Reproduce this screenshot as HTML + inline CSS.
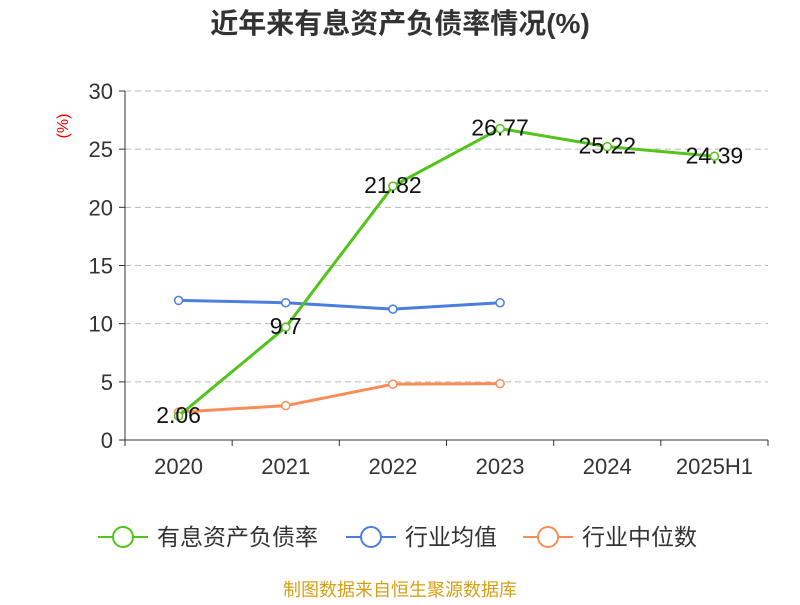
<!DOCTYPE html>
<html><head><meta charset="utf-8"><style>
body{margin:0;background:#fff;}
svg text{font-family:"Liberation Sans","Noto Sans CJK SC",sans-serif;}
</style></head><body>
<svg id="c" width="800" height="600" xmlns="http://www.w3.org/2000/svg">
<text x="400" y="33" text-anchor="middle" font-size="28" font-weight="bold" fill="#333">近年来有息资产负债率情况(%)</text>
<text x="68" y="126" font-size="16" fill="#e00" transform="rotate(-90 68 126)" text-anchor="middle">(%)</text>
<g id="grid"></g><g id="axes"></g><g id="series"></g>
<g>
<g><line x1="98" y1="537" x2="148" y2="537" stroke="#52c41a" stroke-width="2"/><circle cx="123" cy="537" r="10" fill="#fff" stroke="#52c41a" stroke-width="2"/><text x="157" y="545" font-size="23" fill="#333">有息资产负债率</text></g>
<g><line x1="346" y1="537" x2="396" y2="537" stroke="#4a7fe0" stroke-width="2"/><circle cx="371" cy="537" r="10" fill="#fff" stroke="#4a7fe0" stroke-width="2"/><text x="405" y="545" font-size="23" fill="#333">行业均值</text></g>
<g><line x1="523" y1="537" x2="573" y2="537" stroke="#fa8c55" stroke-width="2"/><circle cx="548" cy="537" r="10" fill="#fff" stroke="#fa8c55" stroke-width="2"/><text x="582" y="545" font-size="23" fill="#333">行业中位数</text></g>
</g>
<text x="400" y="596" text-anchor="middle" font-size="18" fill="#d4a017">制图数据来自恒生聚源数据库</text>
</svg>
<script>
const categories=["2020","2021","2022","2023","2024","2025H1"];
const debtRatio=[2.06,9.7,21.82,26.77,25.22,24.39];
const debtLabels=["2.06","9.7","21.82","26.77","25.22","24.39"];
const industryAvg=[12.0,11.8,11.25,11.8];
const industryMedian=[2.4,2.95,4.8,4.85];
const yTicks=[0,5,10,15,20,25,30];
const NS="http://www.w3.org/2000/svg";
const x0=125,x1=768,yb=440,yt=91;
const bw=(x1-x0)/categories.length;
const X=i=>x0+bw*(i+0.5);
const Y=v=>yb-(v/30)*(yb-yt);
function mk(t,a,p){const e=document.createElementNS(NS,t);for(const k in a)e.setAttribute(k,a[k]);p.appendChild(e);return e;}
const grid=document.getElementById('grid'),axes=document.getElementById('axes'),ser=document.getElementById('series');
yTicks.forEach(v=>{
 if(v>0){const g=mk('line',{x1:x0,x2:x1,y1:Y(v),y2:Y(v),stroke:'#bbb','stroke-dasharray':'6,4'},grid);
 }
 mk('line',{x1:x0-6,x2:x0,y1:Y(v),y2:Y(v),stroke:'#333'},axes);
 const t=mk('text',{x:x0-12,y:Y(v)+8,'text-anchor':'end','font-size':22,fill:'#333'},axes);t.textContent=v;
 
});
mk('line',{x1:x0,x2:x0,y1:yt,y2:yb,stroke:'#333'},axes);
mk('line',{x1:x0,x2:x1,y1:yb,y2:yb,stroke:'#333'},axes);
for(let i=0;i<=categories.length;i++)mk('line',{x1:x0+bw*i,x2:x0+bw*i,y1:yb,y2:yb+6,stroke:'#333'},axes);
categories.forEach((c,i)=>{const t=mk('text',{x:X(i),y:474,'text-anchor':'middle','font-size':22,fill:'#333'},axes);t.textContent=c;
 });
function line(vals,color,name){
 const g=mk('g',{},ser);
 mk('polyline',{points:vals.map((v,i)=>X(i)+','+Y(v)).join(' '),fill:'none',stroke:color,'stroke-width':3},g);
 vals.forEach((v,i)=>{const c=mk('circle',{cx:X(i),cy:Y(v),r:4,fill:'#fff',stroke:color,'stroke-width':1.5},g);
 });
 return g;
}
line(industryMedian,'#fa8c55','industry-median-line');
line(industryAvg,'#4a7fe0','industry-avg-line');
const g=line(debtRatio,'#52c41a','debt-ratio-line');
debtRatio.forEach((v,i)=>{const t=mk('text',{x:X(i),y:Y(v)+7,'text-anchor':'middle','font-size':23,fill:'#111'},g);t.textContent=debtLabels[i];
 });
</script>
</body></html>
